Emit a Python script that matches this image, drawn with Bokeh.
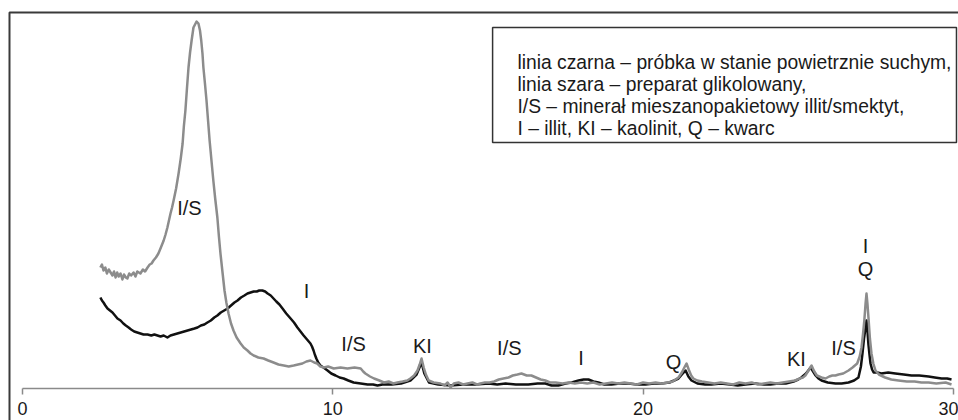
from bokeh.plotting import figure
from bokeh.models import (Range1d, LinearAxis, FixedTicker, BoxAnnotation,
                          ColumnDataSource, Label)
from bokeh.embed import file_html
from bokeh.resources import INLINE

# ---- data (2θ in degrees, intensity in arbitrary units) ----
gray_x = [2.51, 2.56, 2.61, 2.67, 2.72, 2.78, 2.84, 2.9, 2.95, 3.0, 3.05, 3.1, 3.16, 3.22, 3.27, 3.33,
          3.38, 3.44, 3.5, 3.58, 3.64, 3.7, 3.8, 3.88, 3.95, 4.03, 4.1, 4.16, 4.22, 4.3, 4.38, 4.46,
          4.55, 4.61, 4.67, 4.72, 4.77, 4.82, 4.87, 4.95, 5.03, 5.1, 5.16, 5.2, 5.25, 5.3, 5.35, 5.4,
          5.45, 5.51, 5.56, 5.61, 5.67, 5.72, 5.76, 5.8, 5.83, 5.88, 5.93, 5.98, 6.03, 6.09, 6.15,
          6.21, 6.28, 6.33, 6.38, 6.45, 6.51, 6.57, 6.64, 6.72, 6.8, 6.9, 7.03, 7.13, 7.25, 7.35,
          7.45, 7.6, 7.77, 7.92, 8.09, 8.25, 8.42, 8.58, 8.74, 8.88, 9.02, 9.15, 9.28, 9.4, 9.5, 9.6,
          9.71, 9.85, 10.03, 10.25, 10.47, 10.7, 10.9, 10.98, 11.05, 11.2, 11.33, 11.5, 11.65, 11.8,
          11.95, 12.08, 12.25, 12.4, 12.5, 12.62, 12.73, 12.8, 12.86, 12.93, 13.0, 13.09, 13.25,
          13.47, 13.6, 13.7, 13.8, 13.9, 14.05, 14.2, 14.34, 14.5, 14.65, 14.76, 14.9, 15.05, 15.2,
          15.35, 15.5, 15.66, 15.8, 15.95, 16.08, 16.25, 16.4, 16.55, 16.7, 16.85, 17.0, 17.18, 17.4,
          17.6, 17.8, 18.0, 18.2, 18.4, 18.6, 18.8, 19.0, 19.2, 19.4, 19.6, 19.8, 20.0, 20.2, 20.4,
          20.6, 20.8, 20.95, 21.05, 21.14, 21.25, 21.33, 21.4, 21.47, 21.55, 21.62, 21.75, 21.9,
          22.1, 22.3, 22.5, 22.7, 22.9, 23.1, 23.3, 23.5, 23.7, 23.9, 24.1, 24.3, 24.5, 24.7, 24.9,
          25.05, 25.15, 25.23, 25.33, 25.43, 25.5, 25.6, 25.75, 25.88, 26.0, 26.1, 26.2, 26.3, 26.45,
          26.62, 26.75, 26.9, 26.98, 27.04, 27.09, 27.13, 27.17, 27.2, 27.23, 27.27, 27.31, 27.36,
          27.42, 27.49, 27.6, 27.8, 28.0, 28.23, 28.5, 28.75, 28.97, 29.2, 29.45, 29.75, 29.94]
gray_y = [121, 124, 118, 121, 115, 119, 116, 113, 117, 111, 116, 112, 115, 109, 114, 111,
          110, 115, 113, 116, 112, 117, 115, 119, 117, 121, 124, 125, 128, 131, 135, 141,
          148, 154, 161, 168, 175, 181, 188, 200, 215, 230, 245, 262, 278, 300, 321, 336,
          348, 361, 364, 367, 365, 358, 348, 335, 321, 305, 288, 268, 248, 228, 208,
          190, 171, 152, 135, 115, 98, 86, 75, 65, 58, 51, 45, 41, 38, 35,
          33, 31, 30, 28, 26, 24, 23, 22, 23, 24, 25, 27, 28, 26, 25, 22,
          21, 22, 20, 21, 20, 21, 20, 17, 15, 12, 10, 8, 6, 7,
          5, 6, 7, 8, 10, 13, 18, 24, 30, 21, 14, 8, 6,
          5, 3, 6, 1, 5, 6, 4, 5, 6, 4, 5, 6, 6, 7,
          9, 10, 11, 13, 14, 15, 13, 13, 11, 9, 8, 6, 6, 5,
          6, 5, 6, 5, 6, 4, 5, 6, 5, 6, 5, 4, 6, 5, 6,
          5, 6, 7, 9, 11, 16, 21, 25, 19, 13, 10, 8, 7,
          6, 5, 6, 5, 4, 6, 5, 6, 4, 5, 6, 5, 6, 7, 8,
          10, 11, 13, 18, 23, 18, 13, 11, 10, 12, 13, 13, 14, 15,
          18, 21, 25, 32, 41, 55, 68, 85, 95, 85, 68, 50, 35,
          25, 18, 14, 11, 9, 8, 7, 7, 6, 6, 5, 6, 4]

black_x = [2.51, 2.56, 2.61, 2.67, 2.74, 2.82, 2.9, 2.98, 3.06, 3.16, 3.25, 3.33, 3.42, 3.5, 3.6,
           3.7, 3.8, 3.9, 4.03, 4.15, 4.25, 4.35, 4.45, 4.55, 4.67, 4.77, 4.88, 4.99, 5.1, 5.21,
           5.32, 5.43, 5.54, 5.64, 5.75, 5.86, 5.96, 6.07, 6.18, 6.28, 6.39, 6.5, 6.61, 6.72, 6.83,
           6.93, 7.04, 7.15, 7.25, 7.35, 7.45, 7.55, 7.63, 7.73, 7.82, 7.9, 8.0, 8.09, 8.18, 8.28,
           8.38, 8.5, 8.64, 8.75, 8.86, 8.96, 9.06, 9.17, 9.28, 9.33, 9.38, 9.42, 9.47, 9.53, 9.6,
           9.7, 9.83, 9.95, 10.09, 10.22, 10.35, 10.5, 10.67, 10.9, 11.12, 11.3, 11.44, 11.6, 11.9,
           12.2, 12.5, 12.7, 12.86, 12.95, 13.1, 13.4, 13.8, 14.2, 14.6, 15.02, 15.3, 15.57, 15.9,
           16.3, 16.6, 16.85, 17.05, 17.27, 17.5, 17.7, 17.92, 18.08, 18.24, 18.4, 18.56, 18.75,
           18.98, 19.25, 19.53, 19.8, 20.08, 20.35, 20.6, 20.85, 21.0, 21.14, 21.25, 21.37, 21.46,
           21.56, 21.75, 22.0, 22.2, 22.5, 22.8, 23.05, 23.3, 23.6, 23.9, 24.1, 24.36, 24.6, 24.85,
           25.0, 25.1, 25.25, 25.4, 25.48, 25.56, 25.65, 25.75, 25.95, 26.2, 26.4, 26.62, 26.8,
           26.94, 27.02, 27.07, 27.12, 27.17, 27.2, 27.23, 27.26, 27.3, 27.33, 27.38, 27.43, 27.55,
           27.68, 27.9, 28.13, 28.4, 28.65, 28.9, 29.2, 29.4, 29.62, 29.8, 29.94]
black_y = [91, 88, 86, 83, 80, 78, 76, 73, 70, 68, 65, 63, 61, 59, 57,
           56, 55, 54, 54, 53, 54, 53, 52, 53, 51, 53, 54, 55, 56, 57,
           58, 59, 60, 61, 63, 64, 66, 68, 71, 73, 76, 78, 80, 83, 86,
           88, 91, 93, 95, 96, 97, 97, 98, 98, 97, 95, 93, 90, 87, 84,
           80, 75, 70, 66, 61, 57, 53, 49, 45, 42, 38, 34, 30, 26, 23,
           21, 18, 15, 13, 11, 10, 8, 6, 5, 4, 4, 3, 4, 4,
           5, 8, 14, 26, 15, 6, 4, 3, 4, 4, 5, 4, 5, 4,
           4, 5, 5, 3, 3, 5, 6, 8, 9, 9, 7, 6, 4,
           4, 5, 5, 4, 4, 5, 5, 6, 8, 10, 14, 18, 12,
           8, 5, 4, 4, 5, 4, 3, 4, 5, 4, 4, 5, 5, 7,
           9, 11, 15, 21, 17, 13, 10, 8, 6, 5, 5, 6, 8,
           11, 22, 35, 50, 61, 68, 58, 45, 33, 25, 19, 16, 16,
           15, 16, 15, 14, 13, 13, 12, 11, 10, 10, 9]

x_ticks = [0, 10, 20, 30]

peak_labels = ["I/S", "I", "I/S", "KI", "I/S", "I", "Q", "KI", "I/S", "I", "Q"]
peak_label_x = [5.38, 9.15, 10.67, 12.89, 15.69, 18.0, 20.98, 24.94, 26.46, 27.17, 27.17]
peak_label_y = [181, 98, 45, 43, 41, 31, 27, 30, 41, 143, 120]

legend_lines = [
    "linia czarna \u2013 próbka w stanie powietrznie suchym,",
    "linia szara \u2013 preparat glikolowany,",
    "I/S \u2013 minerał mieszanopakietowy illit/smektyt,",
    "I \u2013 illit, KI \u2013 kaolinit, Q \u2013 kwarc",
]

FONT = "Liberation Sans"
X0, X1 = -0.709, 30.165
FRAME_LEFT, FRAME_TOP = -0.419, 376

p = figure(width=958, height=420, x_range=Range1d(X0, X1), y_range=Range1d(-32, 388),
           output_backend="svg", toolbar_location=None,
           x_axis_location=None, y_axis_location=None,
           min_border_left=0, min_border_top=0, min_border_right=0, min_border_bottom=0)
p.grid.visible = False
p.outline_line_color = None
p.background_fill_color = "white"
p.border_fill_color = "white"

# outer frame (top and left edges visible; right and bottom edges fall outside the canvas)
p.add_layout(BoxAnnotation(left=FRAME_LEFT, top=FRAME_TOP, right=X1 + 1, bottom=-60,
                           fill_alpha=0, line_color="#3a3a3a", line_alpha=1.0, line_width=2))

ax = LinearAxis(ticker=FixedTicker(ticks=x_ticks), fixed_location=0, bounds=(0, 30))
ax.axis_line_color = "#8a8a8a"
ax.axis_line_width = 1.5
ax.major_tick_line_color = "#8a8a8a"
ax.major_tick_line_width = 1.5
ax.major_tick_in = 0
ax.major_tick_out = 6
ax.minor_tick_line_color = None
ax.major_label_standoff = 7
ax.major_label_text_font = FONT
ax.major_label_text_font_size = "18px"
ax.major_label_text_color = "#1a1a1a"
p.add_layout(ax, "below")

black_src = ColumnDataSource(dict(x=black_x, y=black_y))
gray_src = ColumnDataSource(dict(x=gray_x, y=gray_y))
p.line("x", "y", source=black_src, line_color="#111111", line_width=2.5, line_join="round")
p.line("x", "y", source=gray_src, line_color="#8c8c8c", line_width=2.5, line_join="round")

for t, lx, ly in zip(peak_labels, peak_label_x, peak_label_y):
    p.add_layout(Label(x=lx, y=ly, text=t, text_align="center", text_baseline="alphabetic",
                       text_font=FONT, text_font_size="20px", text_color="#1a1a1a"))

p.add_layout(BoxAnnotation(left=15.15, right=30.10, bottom=246, top=361,
                           fill_color="white", fill_alpha=1.0,
                           line_color="#333333", line_alpha=1.0, line_width=1.5))
for i, line in enumerate(legend_lines):
    p.add_layout(Label(x=15.95, y=326 - 22 * i, text=line, text_align="left",
                       text_baseline="alphabetic", text_font=FONT, text_font_size="19.3px",
                       text_color="#1a1a1a"))

open("out.html", "w").write(file_html(p, INLINE))
